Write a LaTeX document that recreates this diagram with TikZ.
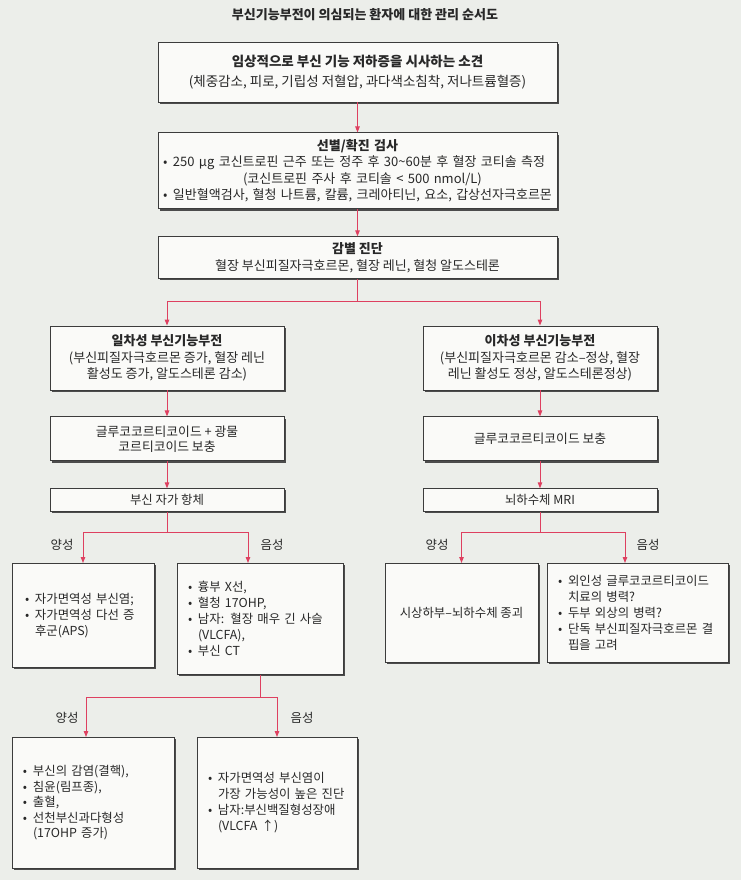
\documentclass[tikz,border=0pt]{standalone}
\usepackage{fontspec}
\setmainfont{Noto Sans CJK KR}
\usetikzlibrary{arrows.meta, positioning, shadows}
\definecolor{paper}{RGB}{236,238,234}
\definecolor{boxfill}{RGB}{250,250,248}
\definecolor{boxline}{RGB}{60,60,60}
\definecolor{flowred}{RGB}{222,64,96}
\definecolor{ink}{RGB}{40,40,40}
\newcommand{\bul}{\makebox[10pt][l]{•}}
\newcommand{\ind}{\hspace*{10pt}}

\begin{document}
\begin{tikzpicture}[x=1pt, y=-1pt, font=\fontsize{12.4}{16}\selectfont, text=ink]
    % Define styles
    \tikzstyle{block} = [rectangle, draw=boxline, line width=0.9pt, fill=boxfill,
                          inner sep=0pt,
                          drop shadow={shadow xshift=1.6pt, shadow yshift=-1.6pt, fill=black!70, opacity=1}]
    \tikzstyle{arrow} = [flowred, line width=1pt, -{Triangle[length=6pt, width=4.5pt]}]

    \fill[paper] (0,0) rectangle (741,880);
    \useasboundingbox (0,0) rectangle (741,880);

    % Title
    \node[font=\fontsize{13}{16}\selectfont\bfseries] (title) at (365,15) {부신기능부전이 의심되는 환자에 대한 관리 순서도};

    % Create blocks
    \node[block, minimum width=399pt, minimum height=60pt, align=center,
          font=\fontsize{13.5}{20}\selectfont] (sign) at (357.5,72)
        {\textbf{임상적으로 부신 기능 저하증을 시사하는 소견}\\(체중감소, 피로, 기립성 저혈압, 과다색소침착, 저나트륨혈증)};
    \node[block, below=30pt of sign, minimum width=399pt, minimum height=76pt,
          text width=389pt, inner xsep=5pt, align=left, font=\fontsize{13}{16.5}\selectfont] (screen)
        {\makebox[\hsize]{\bfseries 선별/확진 검사}\\
         \bul 250 μg 코신트로핀 근주 또는 정주 후 30\textasciitilde60분 후 혈장 코티솔 측정\\
         \hspace*{80pt}(코신트로핀 주사 후 코티솔 < 500 nmol/L)\\
         \bul 일반혈액검사, 혈청 나트륨, 칼륨, 크레아티닌, 요소, 갑상선자극호르몬};
    \node[block, below=27pt of screen, minimum width=399pt, minimum height=42pt, align=center,
          font=\fontsize{13}{17}\selectfont] (diff)
        {\textbf{감별 진단}\\혈장 부신피질자극호르몬, 혈장 레닌, 혈청 알도스테론};

    \node[block, minimum width=234pt, minimum height=64pt, align=center,
          font=\fontsize{13}{16.5}\selectfont] (prim) at (167,358)
        {\textbf{일차성 부신기능부전}\\(부신피질자극호르몬 증가, 혈장 레닌\\활성도 증가, 알도스테론 감소)};
    \node[block, minimum width=234pt, minimum height=64pt, align=center,
          font=\fontsize{13}{16.5}\selectfont] (sec) at (540,358)
        {\textbf{이차성 부신기능부전}\\(부신피질자극호르몬 감소–정상, 혈장\\레닌 활성도 정상, 알도스테론정상)};

    \node[block, below=26pt of prim, minimum width=234pt, minimum height=44pt, align=center,
          font=\fontsize{12.8}{15}\selectfont] (gmc) {글루코코르티코이드 + 광물\\코르티코이드 보충};
    \node[block, below=26pt of sec, minimum width=234pt, minimum height=44pt,
          font=\fontsize{12.8}{15}\selectfont] (gc) {글루코코르티코이드 보충};
    \node[block, below=27pt of gmc, minimum width=234pt, minimum height=23pt] (ab) {부신 자가 항체};
    \node[block, below=27pt of gc, minimum width=234pt, minimum height=23pt] (mri) {뇌하수체 MRI};

    \node[block, anchor=north, minimum width=142pt, minimum height=104pt,
          text width=116pt, inner xsep=13pt, align=left] (auto) at (83,563)
        {\bul 자가면역성 부신염;\\\bul 자가면역성 다선 증\\\ind 후군(APS)};
    \node[block, anchor=north, minimum width=166pt, minimum height=111pt,
          text width=144pt, inner xsep=11pt, align=left] (neg) at (260,563)
        {\bul 흉부 X선,\\\bul 혈청 17OHP,\\\bul 남자: 혈장 매우 긴 사슬\\\ind (VLCFA),\\\bul 부신 CT};
    \node[block, anchor=north, minimum width=153pt, minimum height=99pt] (tumor) at (461.5,563)
        {시상하부–뇌하수체 종괴};
    \node[block, anchor=north, minimum width=181pt, minimum height=99pt,
          text width=159pt, inner xsep=11pt, align=left] (other) at (637.5,563)
        {\bul 외인성 글루코코르티코이드\\\ind 치료의 병력?\\\bul 두부 외상의 병력?\\\bul 단독 부신피질자극호르몬 결\\\ind 핍을 고려};

    \node[block, anchor=north, minimum width=162pt, minimum height=131pt,
          text width=140pt, inner xsep=11pt, align=left, font=\fontsize{12.4}{15.5}\selectfont] (cause) at (93,737)
        {\bul 부신의 감염(결핵),\\\bul 침윤(림프종),\\\bul 출혈,\\\bul 선천부신과다형성\\\ind (17OHP 증가)};
    \node[block, anchor=north, minimum width=160pt, minimum height=131pt,
          text width=138pt, inner xsep=11pt, align=left] (likely) at (277,737)
        {\bul 자가면역성 부신염이\\\ind 가장 가능성이 높은 진단\\\bul 남자:부신백질형성장애\\\ind (VLCFA ↑)};

    % Branch labels
    \node (posA) at (62,545) {양성};
    \node (negA) at (272,545) {음성};
    \node (posB) at (437,545) {양성};
    \node (negB) at (648,545) {음성};
    \node (posC) at (67,718) {양성};
    \node (negC) at (302,718) {음성};

    % Draw arrows
    \draw[arrow] (sign) -- (screen);
    \draw[arrow] (screen) -- (diff);
    \draw[arrow] (diff.south) -- ++(0,22) -| (prim.north);
    \draw[arrow] (diff.south) -- ++(0,22) -| (sec.north);
    \draw[arrow] (prim) -- (gmc);
    \draw[arrow] (gmc) -- (ab);
    \draw[arrow] (sec) -- (gc);
    \draw[arrow] (gc) -- (mri);
    \draw[arrow] (ab.south) -- ++(0,20) -| (auto.north);
    \draw[arrow] (ab.south) -- ++(0,20) -| ([xshift=-12pt]neg.north);
    \draw[arrow] (mri.south) -- ++(0,20) -| (tumor.north);
    \draw[arrow] (mri.south) -- ++(0,20) -| ([xshift=-12.5pt]other.north);
    \draw[arrow] (neg.south) -- ++(0,23) -| ([xshift=-7pt]cause.north);
    \draw[arrow] (neg.south) -- ++(0,23) -| (likely.north);
\end{tikzpicture}
\end{document}
